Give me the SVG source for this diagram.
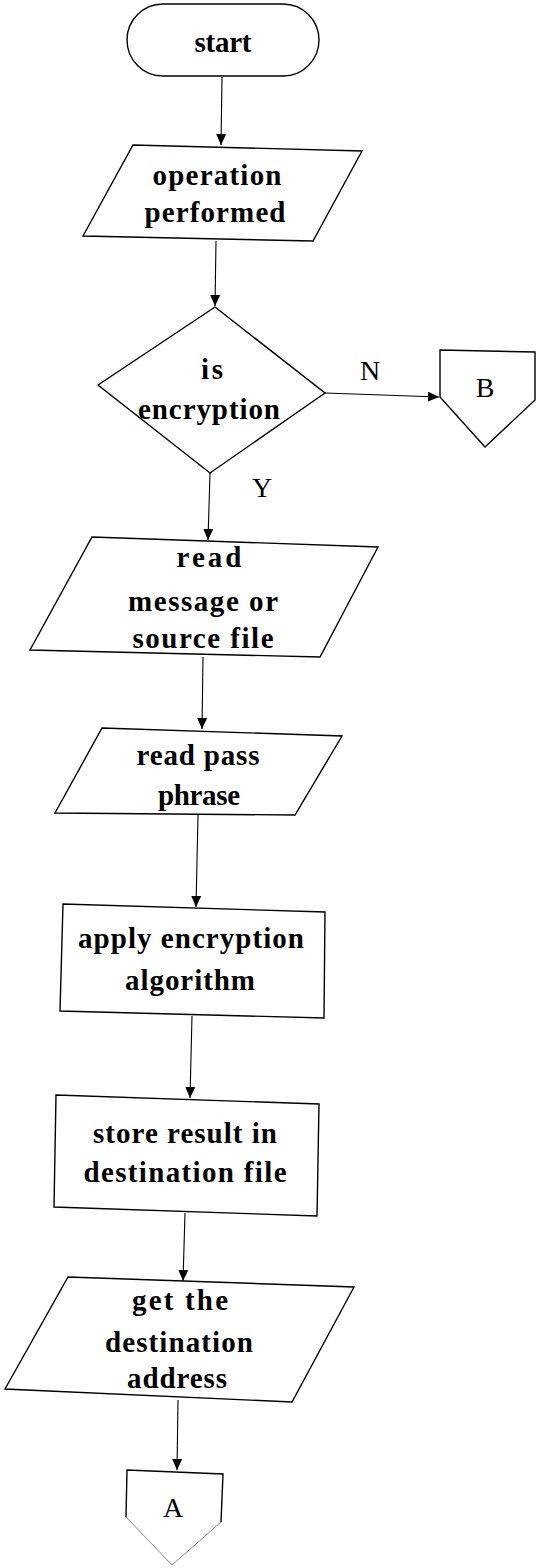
<svg xmlns="http://www.w3.org/2000/svg" width="536" height="1568" viewBox="0 0 536 1568">
<style>
.shape{fill:#fff;stroke:#000;stroke-width:1.4}
.faint{fill:none;stroke:#888;stroke-width:1}
.t{font-family:"Liberation Serif","Times New Roman",serif;font-size:29px;font-weight:bold;fill:#000;text-anchor:middle}
.l{font-family:"Liberation Serif","Times New Roman",serif;font-size:28px;fill:#000;text-anchor:middle}
.c{fill:none;stroke:#000;stroke-width:1.1}
</style>
<defs>
<marker id="ah" markerWidth="12" markerHeight="12" refX="11" refY="5" orient="auto" markerUnits="userSpaceOnUse">
<path d="M0,0 L11,5 L0,10 Z" fill="#000"/>
</marker>
</defs>
<rect width="536" height="1568" fill="#fff"/>
<g id="connectors">
<line class="c" x1="222" y1="77" x2="221" y2="145" marker-end="url(#ah)"/>
<line class="c" x1="216" y1="241" x2="215" y2="306" marker-end="url(#ah)"/>
<line class="c" x1="325" y1="393" x2="439" y2="397" marker-end="url(#ah)"/>
<line class="c" x1="210" y1="473" x2="208" y2="540" marker-end="url(#ah)"/>
<line class="c" x1="203" y1="657" x2="202" y2="729" marker-end="url(#ah)"/>
<line class="c" x1="198" y1="815" x2="196" y2="907" marker-end="url(#ah)"/>
<line class="c" x1="192" y1="1016" x2="190" y2="1098" marker-end="url(#ah)"/>
<line class="c" x1="185" y1="1213" x2="183" y2="1281" marker-end="url(#ah)"/>
<line class="c" x1="178" y1="1400" x2="177" y2="1470" marker-end="url(#ah)"/>
</g>
<g id="start">
<rect class="shape" x="127" y="4" width="192" height="72" rx="36" ry="36"/>
<text class="t" x="223" y="52" textLength="57" lengthAdjust="spacing">start</text>
</g>
<g id="operation">
<polygon class="shape" points="133,145 362,151 313,241 83,236"/>
<text class="t" x="217" y="185" textLength="129" lengthAdjust="spacing">operation</text>
<text class="t" x="215" y="222" textLength="141" lengthAdjust="spacing">performed</text>
</g>
<g id="decision">
<polygon class="shape" points="215,307 325,393 210,473 98,385"/>
<text class="t" x="212" y="379" textLength="22" lengthAdjust="spacing">is</text>
<text class="t" x="209" y="419" textLength="142" lengthAdjust="spacing">encryption</text>
</g>
<g id="labels">
<text class="l" x="370" y="380">N</text>
<text class="l" x="262" y="497">Y</text>
</g>
<g id="connectorB">
<polygon class="shape" points="440,350 535,352 535,400 485,447 440,397"/>
<text class="l" x="485" y="397">B</text>
</g>
<g id="readMessage">
<polygon class="shape" points="92,537 378,547 320,657 30,650"/>
<text class="t" x="209" y="567" textLength="65" lengthAdjust="spacing">read</text>
<text class="t" x="203" y="611" textLength="150" lengthAdjust="spacing">message or</text>
<text class="t" x="203" y="648" textLength="141" lengthAdjust="spacing">source file</text>
</g>
<g id="readPass">
<polygon class="shape" points="102,728 342,736 295,815 55,813"/>
<text class="t" x="198" y="765" textLength="123" lengthAdjust="spacing">read pass</text>
<text class="t" x="199" y="805" textLength="82" lengthAdjust="spacing">phrase</text>
</g>
<g id="apply">
<polygon class="shape" points="63,904 325,912 324,1018 60,1011"/>
<text class="t" x="191" y="948" textLength="226" lengthAdjust="spacing">apply encryption</text>
<text class="t" x="190" y="990" textLength="130" lengthAdjust="spacing">algorithm</text>
</g>
<g id="store">
<polygon class="shape" points="56,1095 319,1104 317,1216 54,1207"/>
<text class="t" x="185" y="1143" textLength="184" lengthAdjust="spacing">store result in</text>
<text class="t" x="185" y="1182" textLength="203" lengthAdjust="spacing">destination file</text>
</g>
<g id="getDest">
<polygon class="shape" points="68,1277 354,1287 292,1402 5,1389"/>
<text class="t" x="180" y="1310" textLength="96" lengthAdjust="spacing">get  the</text>
<text class="t" x="179" y="1352" textLength="148" lengthAdjust="spacing">destination</text>
<text class="t" x="177" y="1388" textLength="100" lengthAdjust="spacing">address</text>
</g>
<g id="connectorA">
<polyline class="shape" points="126,1517 127,1470 223,1474 221,1522"/>
<polyline class="faint" points="126,1517 172,1565 221,1522"/>
<text class="l" x="173" y="1517">A</text>
</g>
</svg>
